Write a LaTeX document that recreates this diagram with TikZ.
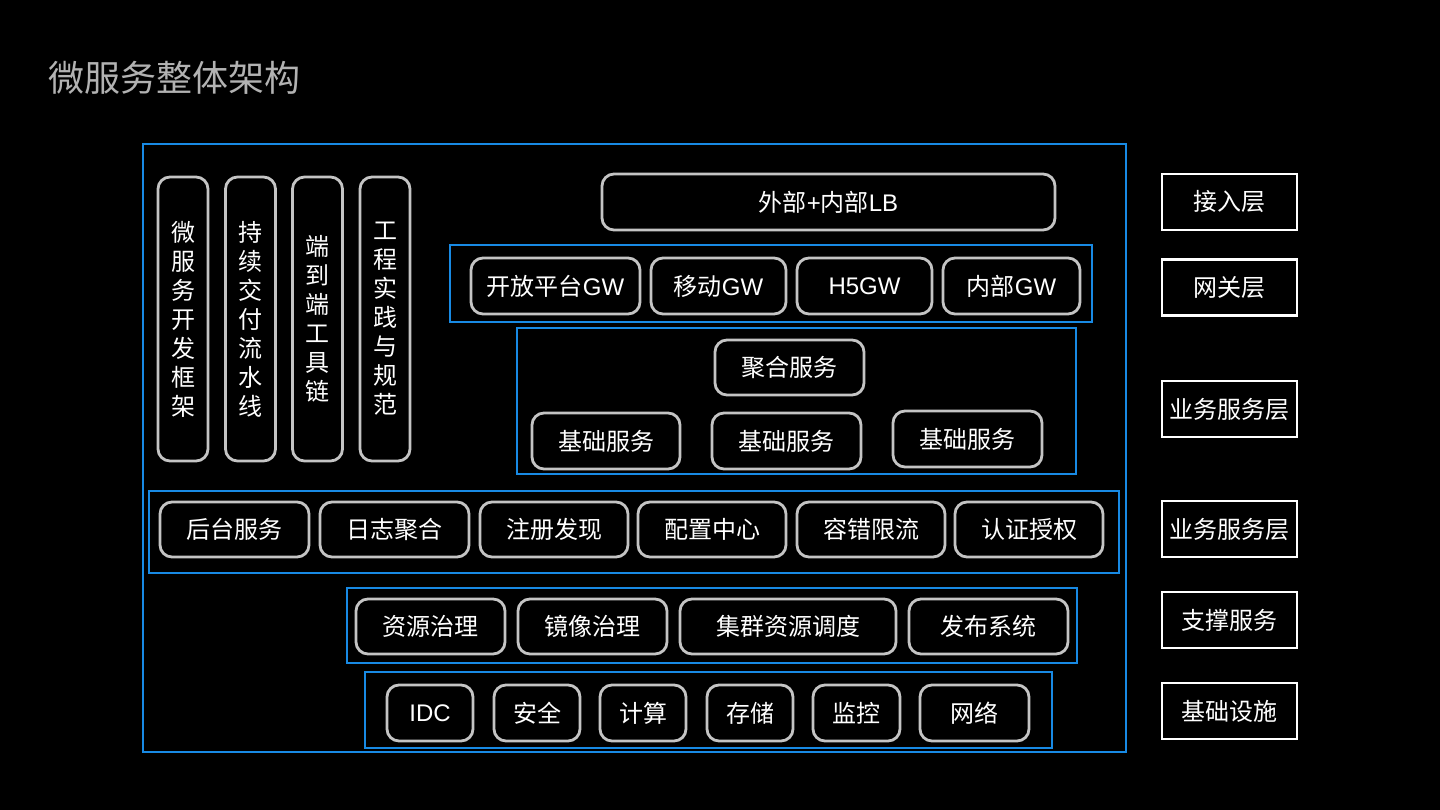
\documentclass[tikz,border=0pt]{standalone}
\usepackage{fontspec}
\setmainfont{Noto Sans CJK SC}
\newfontfamily\latinfont{Liberation Sans}
\usetikzlibrary{positioning}

\definecolor{chalkblue}{RGB}{24,138,228}
\definecolor{chalkgray}{RGB}{196,196,196}
\definecolor{titlegray}{RGB}{178,178,178}

\newcommand{\lat}[1]{{\latinfont #1}}

\begin{document}
\begin{tikzpicture}[x=1pt, y=-1pt, every node/.style={font=\fontsize{24}{29}\selectfont, text=white, inner sep=0pt}]
    \tikzset{chip/.style={rectangle, draw=chalkgray, line width=2.8pt, rounded corners=12pt, minimum height=56pt}}
    \tikzset{pillar/.style={chip, minimum width=50pt, minimum height=284pt, align=center}}
    \tikzset{layer/.style={rectangle, draw=chalkblue, line width=2.8pt}}
    \tikzset{tag/.style={rectangle, draw=white, line width=2.8pt, minimum width=135pt, minimum height=56pt}}

    \fill[black] (0,0) rectangle (1440,810);
    \useasboundingbox (0,0) rectangle (1440,810);

    \node[anchor=west, text=titlegray, font=\fontsize{36}{40}\selectfont] (title) at (48,78) {微服务整体架构};

    % outer frame
    \node[layer, minimum width=983pt, minimum height=608pt] (frame) at (634.5,448) {};

    % left pillars
    \node[pillar] (devfw) at (183,319) {微\\服\\务\\开\\发\\框\\架};
    \node[pillar] (cicd) at (250.5,319) {持\\续\\交\\付\\流\\水\\线};
    \node[pillar] (toolchain) at (317.5,319) {端\\到\\端\\工\\具\\链};
    \node[pillar] (practice) at (385,319) {工\\程\\实\\践\\与\\规\\范};

    % access + gateway
    \node[chip, minimum width=453pt] (lb) at (828.5,202) {外部\lat{+}内部\lat{LB}};
    \node[layer, minimum width=642pt, minimum height=77pt] (gwlayer) at (771,283.5) {};
    \node[chip, minimum width=169pt] (gwopen) at (555.5,286) {开放平台\lat{GW}};
    \node[chip, minimum width=135pt] (gwmobile) at (718.5,286) {移动\lat{GW}};
    \node[chip, minimum width=135pt] (gwh5) at (864.5,286) {\lat{H5GW}};
    \node[chip, minimum width=137pt] (gwinner) at (1011.5,286) {内部\lat{GW}};

    % business services
    \node[layer, minimum width=559pt, minimum height=146pt] (bizlayer) at (796.5,401) {};
    \node[chip, minimum width=149pt, minimum height=55pt] (agg) at (789.5,367.5) {聚合服务};
    \node[chip, minimum width=148pt] (base1) at (606,441) {基础服务};
    \node[chip, minimum width=149pt] (base2) at (786.5,441) {基础服务};
    \node[chip, minimum width=149pt] (base3) at (967.5,439) {基础服务};

    % common services
    \node[layer, minimum width=970pt, minimum height=82pt] (commonlayer) at (634,532) {};
    \node[chip, minimum width=149pt, minimum height=55pt] (backend) at (234.5,529.5) {后台服务};
    \node[chip, minimum width=149pt, minimum height=55pt] (logagg) at (394.5,529.5) {日志聚合};
    \node[chip, minimum width=148pt, minimum height=55pt] (registry) at (554,529.5) {注册发现};
    \node[chip, minimum width=148pt, minimum height=55pt] (config) at (712,529.5) {配置中心};
    \node[chip, minimum width=148pt, minimum height=55pt] (fault) at (871,529.5) {容错限流};
    \node[chip, minimum width=148pt, minimum height=55pt] (auth) at (1029,529.5) {认证授权};

    % support
    \node[layer, minimum width=730pt, minimum height=75pt] (supportlayer) at (712,625.5) {};
    \node[chip, minimum width=149pt, minimum height=55pt] (res) at (430.5,626.5) {资源治理};
    \node[chip, minimum width=149pt, minimum height=55pt] (image) at (592.5,626.5) {镜像治理};
    \node[chip, minimum width=216pt, minimum height=55pt] (cluster) at (788,626.5) {集群资源调度};
    \node[chip, minimum width=159pt, minimum height=55pt] (release) at (988.5,626.5) {发布系统};

    % infrastructure
    \node[layer, minimum width=687pt, minimum height=76pt] (infralayer) at (708.5,710) {};
    \node[chip, minimum width=86pt] (idc) at (430,713) {\lat{IDC}};
    \node[chip, minimum width=86pt] (security) at (537,713) {安全};
    \node[chip, minimum width=86pt] (compute) at (643,713) {计算};
    \node[chip, minimum width=86pt] (storage) at (750,713) {存储};
    \node[chip, minimum width=87pt] (monitor) at (856.5,713) {监控};
    \node[chip, minimum width=109pt] (network) at (974.5,713) {网络};

    % layer tags
    \node[tag] (tagaccess) at (1229.5,202) {接入层};
    \node[tag] (taggw) at (1229.5,287.5) {网关层};
    \node[tag] (tagbiz) at (1229.5,409) {业务服务层};
    \node[tag] (tagcommon) at (1229.5,529) {业务服务层};
    \node[tag] (tagsupport) at (1229.5,620) {支撑服务};
    \node[tag] (taginfra) at (1229.5,711) {基础设施};
\end{tikzpicture}
\end{document}
